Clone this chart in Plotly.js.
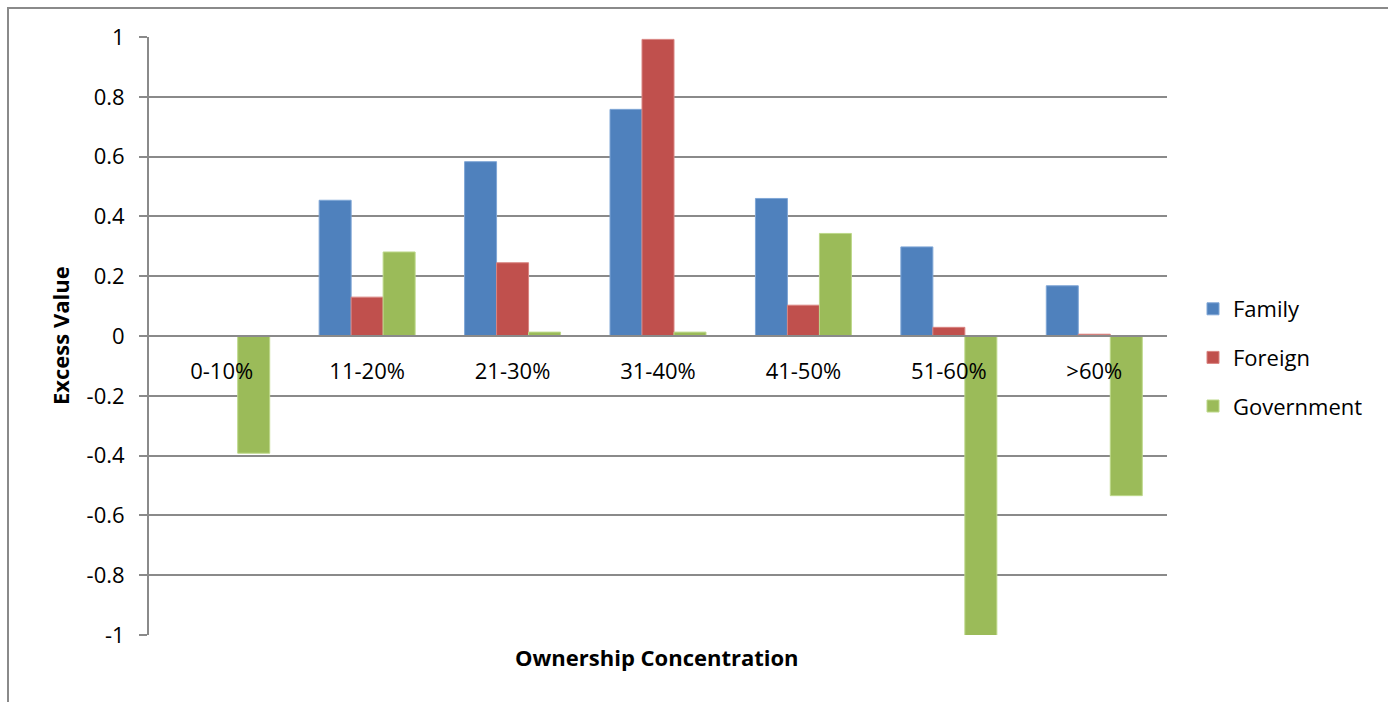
<!DOCTYPE html>
<html>
<head>
<meta charset="utf-8">
<script src="https://cdn.plot.ly/plotly-3.0.1.min.js"></script>
<style>
  html, body { margin: 0; padding: 0; background: #fff; }
  #chart { width: 1388px; height: 702px; position: absolute; left: 0; top: 0; }
  #frame { position: absolute; left: 7px; top: 7px; width: 1400px; height: 720px;
           border-left: 2px solid #8a8a8a; border-top: 2px solid #8a8a8a; pointer-events: none; }
</style>
</head>
<body>
<div id="chart"></div>
<div id="frame"></div>
<script>
const categories = ["0-10%", "11-20%", "21-30%", "31-40%", "41-50%", "51-60%", ">60%"];
const family     = [0, 0.454, 0.583, 0.758, 0.460, 0.298, 0.168];
const foreign    = [0, 0.130, 0.245, 0.992, 0.103, 0.029, 0.006];
const government = [-0.392, 0.281, 0.013, 0.013, 0.343, -1.012, -0.534];
const seriesNames = ["Family", "Foreign", "Government"];
const yTickVals = [1, 0.8, 0.6, 0.4, 0.2, 0, -0.2, -0.4, -0.6, -0.8, -1];
const yTickText = ["1", "0.8", "0.6", "0.4", "0.2", "0", "-0.2", "-0.4", "-0.6", "-0.8", "-1"];

const colors = ["#4F81BD", "#C0504D", "#9BBB59"];
const edge = ["#7fa6d6", "#d98481", "#bdd88a"];
const font = "'Open Sans', 'Liberation Sans', sans-serif";
const fs = 22;

const traces = [family, foreign, government].map((vals, i) => ({
  type: "bar",
  name: seriesNames[i],
  x: categories,
  y: vals,
  legendgroup: "g" + i,
  marker: { color: colors[i], line: { color: edge[i], width: 1 } },
  hoverinfo: "x+y+name"
}));

const W = 1388, H = 702;
const L = 149, R = W - 1167, T = 37, B = H - 635;
const pw = W - L - R, ph = H - T - B;

const layout = {
  width: W, height: H,
  margin: { l: L, r: R, t: T, b: B, pad: 0 },
  paper_bgcolor: "#ffffff",
  plot_bgcolor: "#ffffff",
  font: { family: font, size: fs, color: "#000" },
  barmode: "group",
  bargap: 0.34,
  bargroupgap: 0,
  showlegend: true,
  legend: {
    x: (1193 - L) / pw, xanchor: "left",
    y: (635 - 288) / ph, yanchor: "top",
    font: { family: font, size: fs, color: "#000" },
    tracegroupgap: 17,
    itemwidth: 30,
    bgcolor: "rgba(0,0,0,0)"
  },
  xaxis: {
    type: "category",
    anchor: "free",
    position: 0.5,
    showline: true,
    linecolor: "#8a8a8a",
    linewidth: 2,
    showgrid: false,
    zeroline: false,
    ticks: "",
    ticklabelstandoff: 16,
    tickfont: { family: font, size: fs, color: "#000" },
    fixedrange: true
  },
  yaxis: {
    range: [-1, 1],
    tickmode: "array",
    tickvals: yTickVals,
    ticktext: yTickText,
    showgrid: true,
    gridcolor: "#8a8a8a",
    gridwidth: 2,
    zeroline: false,
    showline: true,
    linecolor: "#8a8a8a",
    linewidth: 2,
    ticks: "outside",
    ticklen: 8,
    tickwidth: 2,
    tickcolor: "#8a8a8a",
    ticklabelstandoff: 10,
    tickfont: { family: font, size: fs, color: "#000" },
    fixedrange: true
  },
  annotations: [
    {
      text: "<b>Excess Value</b>",
      xref: "paper", yref: "paper",
      x: (60 - L) / pw, y: 0.5,
      xanchor: "center", yanchor: "middle",
      textangle: -90, showarrow: false,
      font: { family: font, size: fs, color: "#000" }
    },
    {
      text: "<b>Ownership Concentration</b>",
      xref: "paper", yref: "paper",
      x: (657 - L) / pw, y: (635 - 657) / ph,
      xanchor: "center", yanchor: "middle",
      showarrow: false,
      font: { family: font, size: fs, color: "#000" }
    }
  ]
};

Plotly.newPlot("chart", traces, layout, { staticPlot: true, displayModeBar: false });
</script>
</body>
</html>
